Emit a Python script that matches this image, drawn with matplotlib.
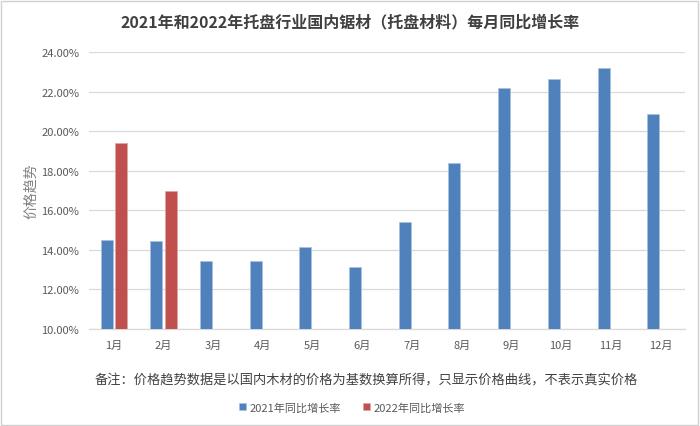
import numpy as np
import matplotlib
matplotlib.use('Agg')
import matplotlib.pyplot as plt
from matplotlib.patches import Rectangle
from matplotlib.ticker import FuncFormatter

plt.rcParams['font.family'] = ['Noto Sans CJK SC', 'DejaVu Sans']

months = ['1月', '2月', '3月', '4月', '5月', '6月', '7月', '8月', '9月', '10月', '11月', '12月']
growth_2021 = [14.50, 14.42, 13.42, 13.42, 14.15, 13.12, 15.40, 18.40, 22.20, 22.64, 23.23, 20.88]
growth_2022 = [19.41, 17.00]
series_names = ['2021年同比增长率', '2022年同比增长率']

blue = '#4F81BD'
red = '#C0504D'
text_col = '#595959'

fig = plt.figure(figsize=(7, 4.27), dpi=100)
ax = fig.add_axes([0.127, 0.228, 0.852, 0.647])

x = np.arange(len(months))
w = 0.24
off = 0.145
ax.bar(x - off, growth_2021, w, color=blue, edgecolor='#A9C0DE', linewidth=0.5,
       label=series_names[0], zorder=3)
ax.bar(x[:len(growth_2022)] + off, growth_2022, w, color=red, edgecolor='#DDA5A4',
       linewidth=0.5, label=series_names[1], zorder=3)

ax.set_ylim(10, 24)
ax.set_xlim(-0.5, len(months) - 0.5)
ax.set_yticks(np.arange(10, 24.1, 2))
ax.yaxis.set_major_formatter(FuncFormatter(lambda v, p: '%.2f%%' % v))
ax.set_xticks(x)
ax.set_xticklabels(months)
ax.tick_params(length=0, labelsize=8, colors=text_col)
ax.tick_params(axis='x', pad=8)
ax.tick_params(axis='y', pad=7)
ax.grid(axis='y', color='#D9D9D9', linewidth=0.9, zorder=0)
for s in ['top', 'right', 'left']:
    ax.spines[s].set_visible(False)
ax.spines['bottom'].set_color('#D9D9D9')
ax.spines['bottom'].set_linewidth(0.9)

ax.set_ylabel('价格趋势', fontsize=10, color='#7F7F7F', labelpad=2)

fig.text(0.5, 0.948, '2021年和2022年托盘行业国内锯材（托盘材料）每月同比增长率',
         ha='center', va='center', fontsize=11.5, fontweight='bold', color='#404040')
fig.text(0.523, 0.107, '备注：价格趋势数据是以国内木材的价格为基数换算所得，只显示价格曲线，不表示真实价格',
         ha='center', va='center', fontsize=9.5, color='#404040')

fig.legend(loc='center', bbox_to_anchor=(0.503, 0.044), ncol=2, frameon=False,
           fontsize=8, handlelength=0.6, handleheight=0.6, handletextpad=0.3,
           columnspacing=2.0, labelcolor=text_col)

fig.patches.append(Rectangle((0.002, 0.003), 0.995, 0.993, transform=fig.transFigure,
                             fill=False, edgecolor='#D0D0D0', linewidth=1.0))

fig.savefig('out.png', dpi=100)
